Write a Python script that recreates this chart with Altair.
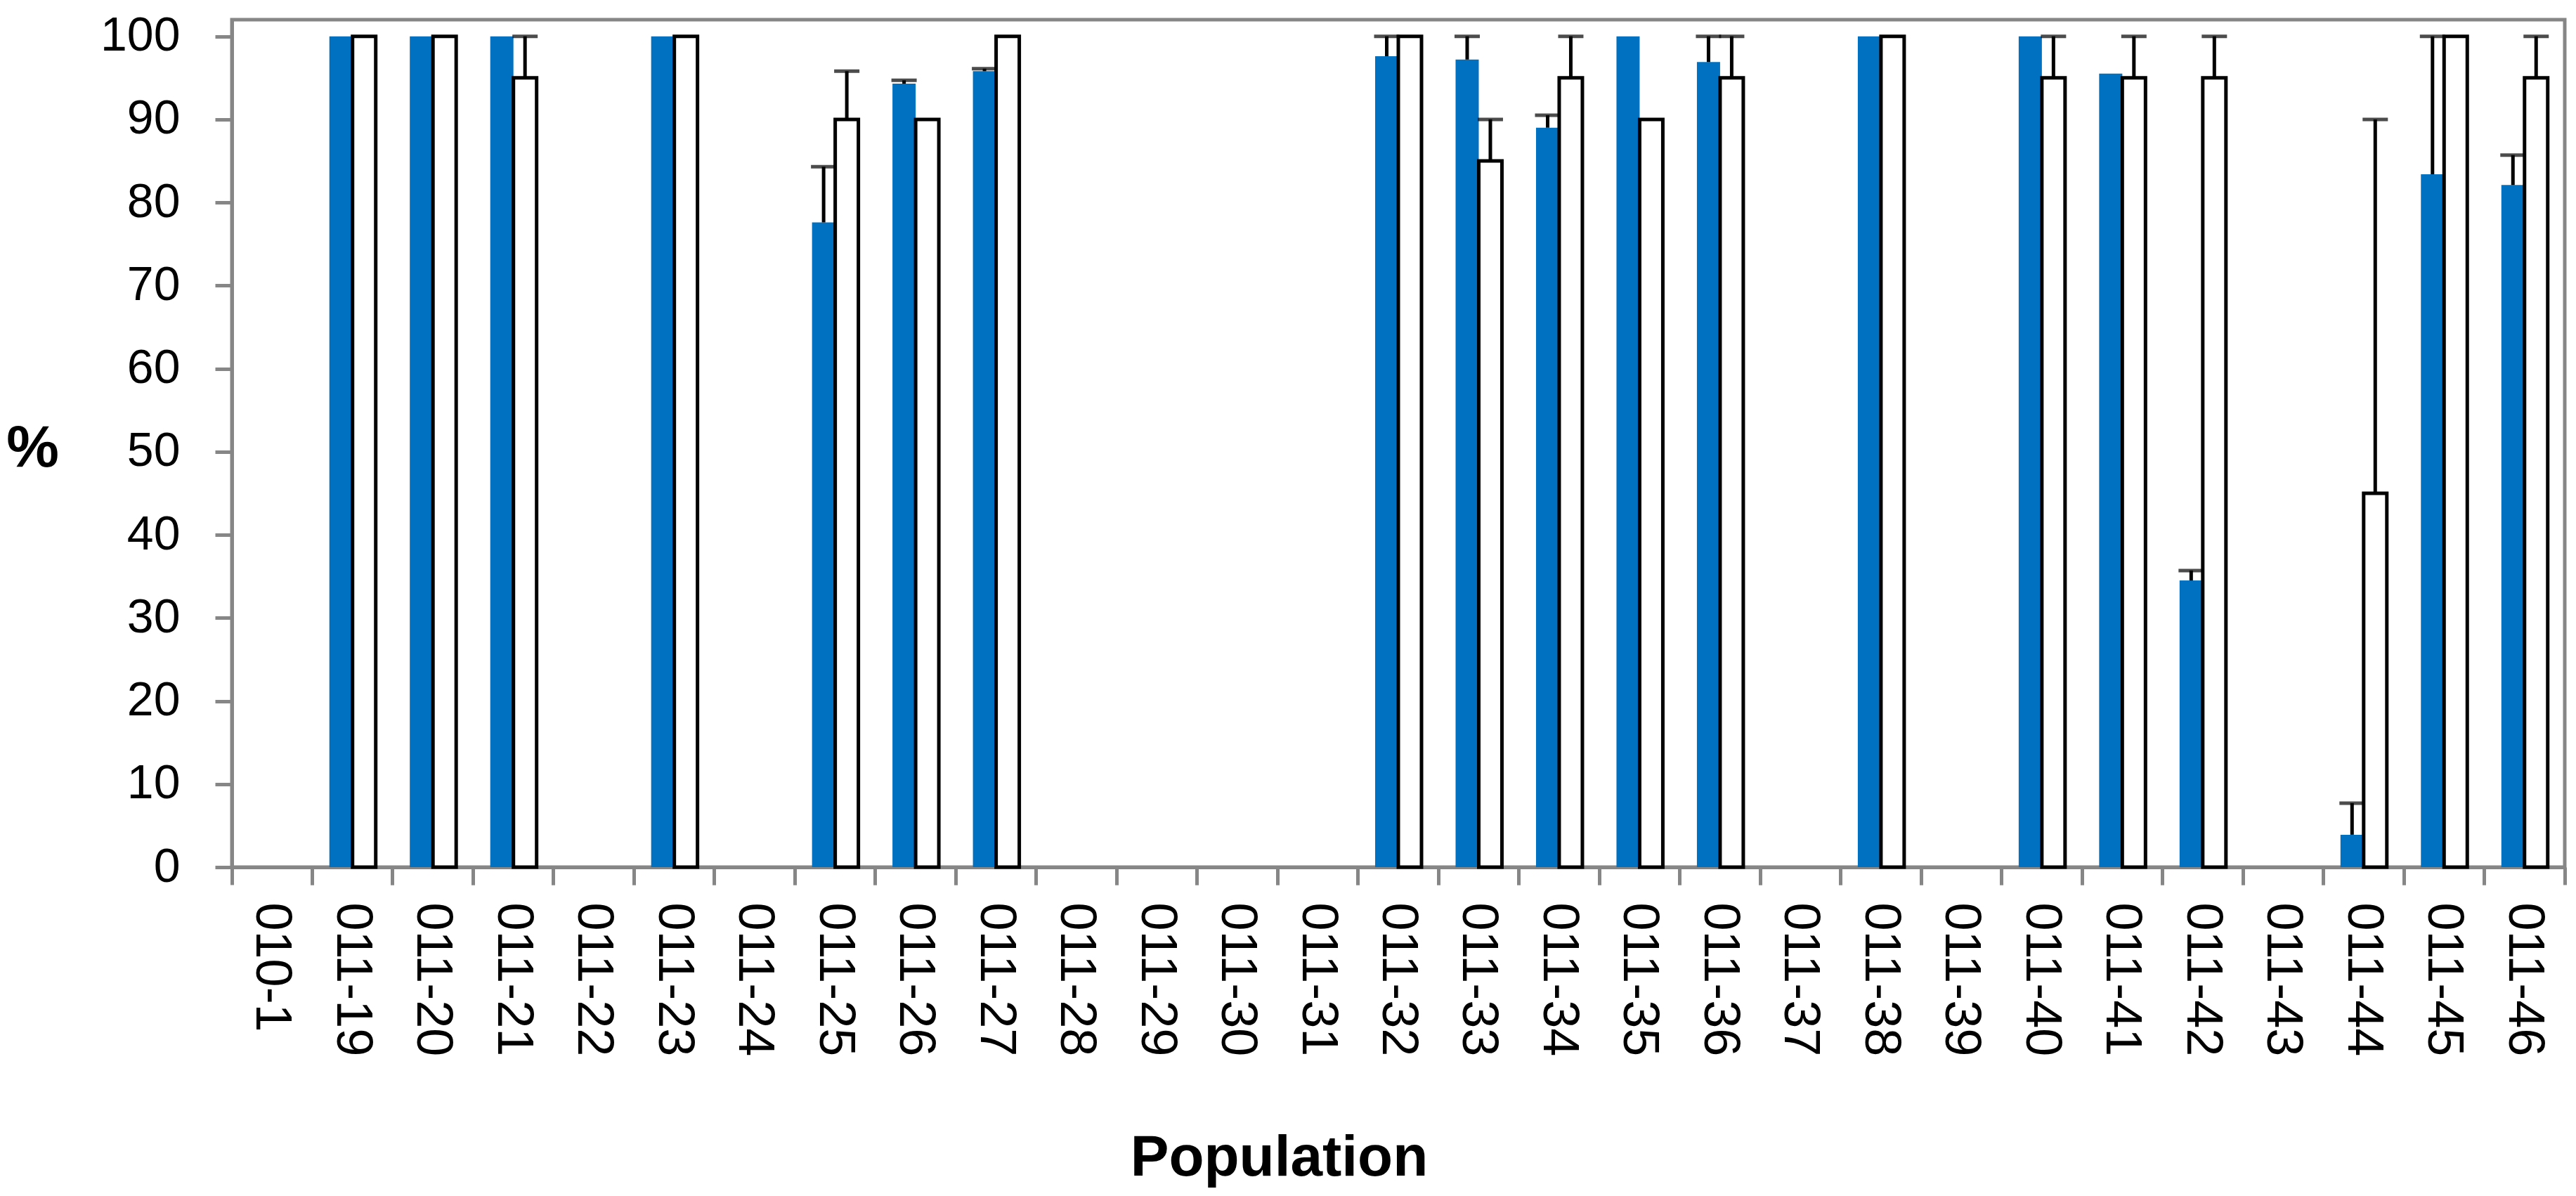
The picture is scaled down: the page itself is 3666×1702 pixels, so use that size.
import altair as alt
import pandas as pd

populations = ["010-1", "011-19", "011-20", "011-21", "011-22", "011-23", "011-24",
               "011-25", "011-26", "011-27", "011-28", "011-29", "011-30", "011-31",
               "011-32", "011-33", "011-34", "011-35", "011-36", "011-37", "011-38",
               "011-39", "011-40", "011-41", "011-42", "011-43", "011-44", "011-45",
               "011-46"]

blue_vals = [None, 100, 100, 100, None, 100, None, 77.6, 94.3, 95.8, None, None, None, None,
             97.6, 97.2, 89.0, 100, 96.9, None, 100, None, 100, 95.5, 34.5, None, 3.9, 83.4, 82.1]
blue_err = [None, 0, 0, 0, None, 0, None, 6.7, 0.4, 0.3, None, None, None, None,
            2.4, 2.8, 1.5, 0, 3.1, None, 0, None, 0, 0, 1.2, None, 3.8, 16.6, 3.6]

white_vals = [None, 100, 100, 95, None, 100, None, 90, 90, 100, None, None, None, None,
              100, 85, 95, 90, 95, None, 100, None, 95, 95, 95, None, 45, 100, 95]
white_err = [None, 0, 0, 5, None, 0, None, 5.8, 0, 0, None, None, None, None,
             0, 5, 5, 0, 5, None, 0, None, 5, 5, 5, None, 45, 0, 5]

series_names = ["S1", "S2"]
y_ticks = [0, 10, 20, 30, 40, 50, 60, 70, 80, 90, 100]

rows = []
for i, p in enumerate(populations):
    if blue_vals[i] is not None:
        rows.append({"pop": p, "series": "S1", "value": blue_vals[i], "err": blue_err[i]})
    if white_vals[i] is not None:
        rows.append({"pop": p, "series": "S2", "value": white_vals[i], "err": white_err[i]})
df = pd.DataFrame(rows)
df["top"] = df["value"] + df["err"]

GRAY = "#868686"
FONT = "Liberation Sans"

x_scale = alt.Scale(domain=populations, paddingInner=0, paddingOuter=0)
off_scale = alt.Scale(domain=series_names, paddingInner=0, paddingOuter=0.735)
y_scale = alt.Scale(domain=[0, 102], nice=False, zero=True)

y_axis = alt.Axis(values=y_ticks, grid=False, labelFontSize=68, labelFont=FONT,
                  labelColor="black", labelPadding=50, tickSize=24, tickWidth=5,
                  tickColor=GRAY, domainColor=GRAY, domainWidth=5,
                  title="%", titleAngle=0, titleFontSize=84, titleFont=FONT,
                  titleFontWeight="bold", titleColor="black", titleX=-284, titleY=610,
                  titleAlign="center", titleBaseline="middle")

label_axis = alt.Axis(orient="bottom", labelAngle=90, labelFontSize=72, labelFont=FONT,
                      labelColor="black", ticks=False, domain=False, labelPadding=50,
                      labelLimit=0, labelOverlap=False,
                      title="Population", titleFontSize=82, titleFont=FONT,
                      titleFontWeight="bold", titleColor="black", titleX=1490, titleY=438,
                      titleAlign="center", titleBaseline="alphabetic")

tick_axis = alt.Axis(orient="bottom", bandPosition=0, labels=False, ticks=True,
                     tickSize=25, tickWidth=5, tickColor=GRAY, domain=True,
                     domainColor=GRAY, domainWidth=5, title=None, grid=False)

end_tick_axis = alt.Axis(orient="bottom", bandPosition=1, labels=False, ticks=True,
                         tickSize=25, tickWidth=5, tickColor=GRAY, domain=False,
                         title=None, grid=False)

bars = alt.Chart(df).mark_bar().encode(
    x=alt.X("pop:N", scale=x_scale, axis=label_axis, sort=populations),
    xOffset=alt.XOffset("series:N", scale=off_scale),
    y=alt.Y("value:Q", scale=y_scale, axis=y_axis),
    fill=alt.Fill("series:N", scale=alt.Scale(domain=series_names, range=["#0070C0", "#FFFFFF"]), legend=None),
    stroke=alt.Stroke("series:N", scale=alt.Scale(domain=series_names, range=["#0070C0", "#000000"]), legend=None),
    strokeWidth=alt.StrokeWidth("series:N", scale=alt.Scale(domain=series_names, range=[0, 5]), legend=None),
)

err_df = alt.Chart(df).transform_filter("datum.err > 0")

rules = err_df.mark_rule(color="black", strokeWidth=5).encode(
    x=alt.X("pop:N", scale=x_scale, axis=tick_axis, sort=populations),
    xOffset=alt.XOffset("series:N", scale=off_scale),
    y=alt.Y("value:Q", scale=y_scale, axis=y_axis),
    y2="top:Q",
)

caps = err_df.mark_tick(color="black", thickness=5, size=36).encode(
    x=alt.X("pop:N", scale=x_scale, axis=end_tick_axis, sort=populations),
    xOffset=alt.XOffset("series:N", scale=off_scale),
    y=alt.Y("top:Q", scale=y_scale, axis=y_axis),
)

chart = alt.layer(bars, rules, caps).resolve_axis(x="independent").properties(
    width=3320, height=1206,
    autosize=alt.AutoSizeParams(type="none"),
    padding={"left": 322, "top": 20, "right": 8, "bottom": 460},
    view=alt.ViewBackground(stroke=GRAY, strokeWidth=5),
).configure_view(stroke=GRAY, strokeWidth=5).configure(background="white")

chart.save("out.html", embed_options={"renderer": "svg", "actions": False})
